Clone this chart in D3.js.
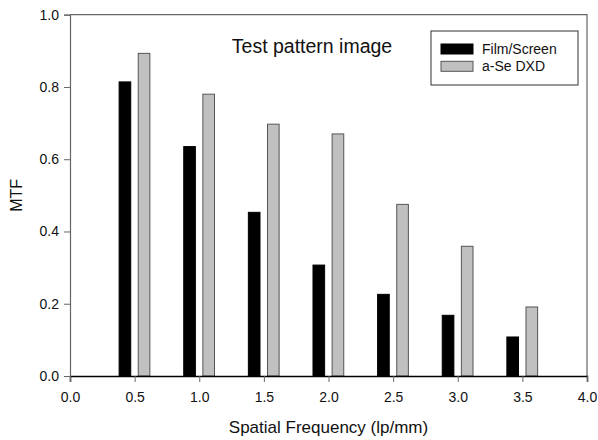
<!DOCTYPE html>
<html>
<head>
<meta charset="utf-8">
<script src="https://cdn.jsdelivr.net/npm/d3@7"></script>
<style>
  body { margin: 0; background: #fff; }
  svg { display: block; font-family: "Liberation Sans", Arial, sans-serif; }
</style>
</head>
<body>
<svg class="chart" width="598" height="440"></svg>
<script>
// data
let freqs = [0.5, 1.0, 1.5, 2.0, 2.5, 3.0, 3.5];
let filmScreen = [0.814, 0.635, 0.453, 0.307, 0.226, 0.168, 0.108];
let aSeDXD = [0.893, 0.780, 0.697, 0.670, 0.475, 0.359, 0.191];
let seriesNames = ['Film/Screen', 'a-Se DXD'];
let xTicks = [0, 0.5, 1, 1.5, 2, 2.5, 3, 3.5, 4];
let yTicks = [0, 0.2, 0.4, 0.6, 0.8, 1.0];

// layout
let plotLeft = 70, plotRight = 587, plotTop = 14.7, plotBottom = 376;
let barW = 0.09;      // bar width in x units
let offsets = [-0.075, 0.073]; // bar centre offsets from tick
let fills = ['#000000', '#c0c0c0'];
let strokes = ['#000000', '#555555'];

let svg = d3.select('svg.chart');

let x = d3.scaleLinear().domain([0, 4]).range([plotLeft, plotRight]);
let y = d3.scaleLinear().domain([0, 1]).range([plotBottom, plotTop]);

// frame (top and right)
svg.append('path')
  .attr('d', `M${plotLeft},${plotTop}H${plotRight}V${plotBottom}`)
  .attr('fill', 'none')
  .attr('stroke', '#666')
  .attr('stroke-width', 1.2);

// bars
let rows = freqs.map((f, i) => ({f: f, vals: [filmScreen[i], aSeDXD[i]]}));
rows.forEach(r => {
  r.vals.forEach((v, k) => {
    svg.append('rect')
      .attr('x', x(r.f + offsets[k] - barW / 2))
      .attr('y', y(v))
      .attr('width', x(barW) - x(0))
      .attr('height', y(0) - y(v))
      .attr('fill', fills[k])
      .attr('stroke', strokes[k])
      .attr('stroke-width', 1);
  });
});

// axes
let xAxis = svg.append('g')
  .attr('transform', `translate(0,${plotBottom})`)
  .call(d3.axisBottom(x).tickValues(xTicks).tickFormat(d3.format('.1f')).tickSize(6).tickPadding(10));
let yAxis = svg.append('g')
  .attr('transform', `translate(${plotLeft},0)`)
  .call(d3.axisLeft(y).tickValues(yTicks).tickFormat(d3.format('.1f')).tickSize(6).tickPadding(5));

[xAxis, yAxis].forEach(g => {
  g.selectAll('text').attr('font-size', 14).attr('fill', '#111').attr('font-family', '"Liberation Sans", Arial, sans-serif');
  g.selectAll('.tick line').attr('stroke', '#666');
});
xAxis.select('.domain').attr('stroke', '#000').attr('stroke-width', 1.5);
yAxis.select('.domain').attr('stroke', '#666').attr('stroke-width', 1.2);

// axis titles
svg.append('text')
  .attr('x', (plotLeft + plotRight) / 2)
  .attr('y', 433)
  .attr('text-anchor', 'middle')
  .attr('font-size', 17)
  .attr('fill', '#111')
  .text('Spatial Frequency (lp/mm)');

svg.append('text')
  .attr('transform', `translate(22,${(plotTop + plotBottom) / 2}) rotate(-90)`)
  .attr('text-anchor', 'middle')
  .attr('font-size', 16)
  .attr('fill', '#111')
  .text('MTF');

// chart title inside plot
svg.append('text')
  .attr('x', 312)
  .attr('y', 53)
  .attr('text-anchor', 'middle')
  .attr('font-size', 19.5)
  .attr('fill', '#111')
  .text('Test pattern image');

// legend
let legend = svg.append('g');
legend.append('rect')
  .attr('x', 431).attr('y', 31)
  .attr('width', 147).attr('height', 54)
  .attr('fill', '#fff')
  .attr('stroke', '#333')
  .attr('stroke-width', 1);

seriesNames.forEach((name, k) => {
  legend.append('rect')
    .attr('x', 441).attr('y', 44 + k * 17.3)
    .attr('width', 32).attr('height', 10)
    .attr('fill', fills[k])
    .attr('stroke', strokes[k]);
  legend.append('text')
    .attr('x', 482).attr('y', 54 + k * 17.3)
    .attr('font-size', 14)
    .attr('fill', '#111')
    .text(name);
});
</script>
</body>
</html>
